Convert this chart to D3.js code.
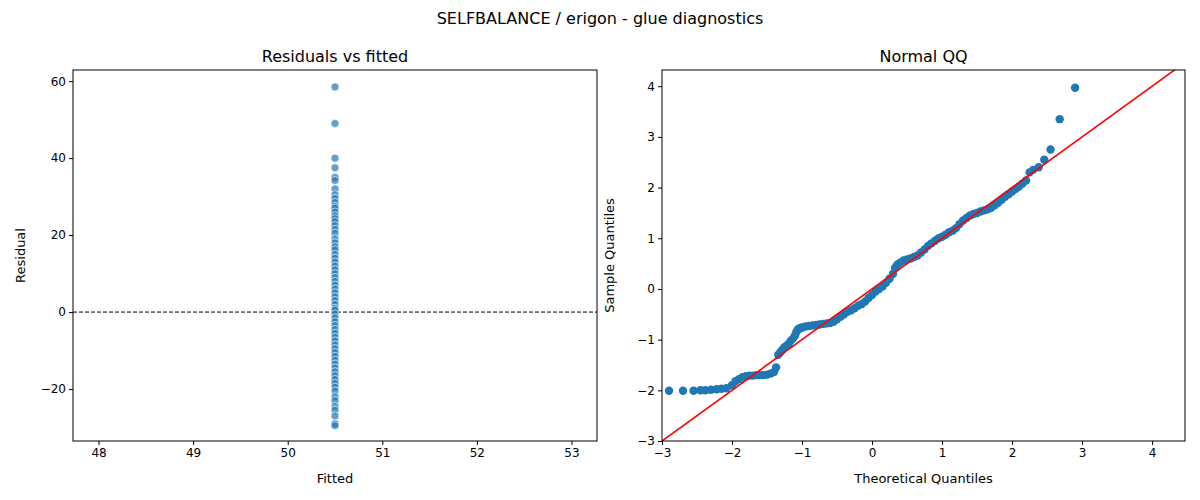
<!DOCTYPE html>
<html><head><meta charset="utf-8">
<script src="https://cdn.jsdelivr.net/npm/d3@7"></script>
<style>body{margin:0;background:#fff;font-family:"DejaVu Sans",sans-serif}</style>
</head><body><svg width="1200" height="500"></svg>
<script>
// values
var fittedValue = 50.5
var residuals = [58.5, 49, 40, 37.5, 35, 34.2, 32, 30.5, 29.5, 28.5, 27.5, 27, 26, 25, 24.3, 23.5, 22.5, 21.5, 20.5, 19, 18, 17, 16.2, 15, 14, 13, 12, 11, 10, 9, 8, 7, 6, 5, 4, 3, 2, 1, 0.5, -0.5, -1.5, -2.5, -3.5, -4.5, -5.5, -6.5, -7.5, -8.5, -9.5, -10.5, -11.5, -12.5, -13.5, -14.5, -15.5, -16.5, -17.5, -18.5, -19.5, -20.5, -22, -23, -24.5, -25.5, -27, -29, -29.5]
var qqTheo = [-2.9, -2.7, -2.55, -2.45, -2.38, -2.3, -2.22, -2.15, -2.08, -2.0, -1.95, -1.9, -1.85, -1.8, -1.75, -1.7, -1.65, -1.6, -1.55, -1.5, -1.45, -1.4, -1.37, -1.34, -1.31, -1.28, -1.25, -1.22, -1.19, -1.16, -1.13, -1.1, -1.08, -1.06, -1.04, -1.02, -1.0, -0.95, -0.9, -0.85, -0.8, -0.75, -0.7, -0.65, -0.6, -0.55, -0.5, -0.45, -0.4, -0.35, -0.3, -0.25, -0.2, -0.15, -0.1, -0.05, 0, 0.05, 0.1, 0.15, 0.2, 0.25, 0.3, 0.33, 0.36, 0.4, 0.45, 0.5, 0.55, 0.6, 0.65, 0.7, 0.75, 0.8, 0.85, 0.9, 0.95, 1.0, 1.05, 1.1, 1.15, 1.2, 1.25, 1.3, 1.35, 1.4, 1.45, 1.5, 1.55, 1.6, 1.65, 1.7, 1.75, 1.8, 1.85, 1.9, 1.95, 2.0, 2.05, 2.1, 2.15, 2.2, 2.25, 2.3, 2.38, 2.46, 2.55, 2.68, 2.9]
var qqSample = [-2.01, -2.01, -2.01, -2.0, -2.0, -1.99, -1.98, -1.97, -1.96, -1.9, -1.82, -1.78, -1.74, -1.72, -1.71, -1.71, -1.7, -1.7, -1.7, -1.69, -1.67, -1.64, -1.55, -1.3, -1.25, -1.2, -1.15, -1.12, -1.08, -1.02, -0.98, -0.92, -0.85, -0.8, -0.78, -0.77, -0.76, -0.74, -0.73, -0.72, -0.71, -0.7, -0.69, -0.68, -0.67, -0.65, -0.6, -0.55, -0.5, -0.45, -0.42, -0.38, -0.33, -0.3, -0.25, -0.18, -0.12, -0.05, 0.0, 0.05, 0.12, 0.2, 0.3, 0.42, 0.48, 0.52, 0.56, 0.58, 0.6, 0.63, 0.66, 0.72, 0.78, 0.85, 0.9, 0.95, 1.0, 1.03, 1.07, 1.12, 1.15, 1.2, 1.28, 1.35, 1.4, 1.45, 1.48, 1.5, 1.53, 1.55, 1.57, 1.6, 1.65, 1.7, 1.76, 1.82, 1.87, 1.92, 1.97, 2.02, 2.08, 2.14, 2.3, 2.35, 2.4, 2.55, 2.75, 3.35, 3.97]
var leftXTicks = [48, 49, 50, 51, 52, 53]
var leftYTicks = [-20, 0, 20, 40, 60]
var rightTicks = [-3, -2, -1, 0, 1, 2, 3, 4]

var svg = d3.select('svg')
var blue = '#1f77b4'
svg.append('text').attr('x', 600).attr('y', 24).attr('text-anchor', 'middle')
    .attr('font-size', 16).text('SELFBALANCE / erigon - glue diagnostics')

function panel(x0, x1, y0, y1, xd, yd, title, xl, yl) {
    var g = svg.append('g')
    var xs = d3.scaleLinear().domain(xd).range([x0, x1])
    var ys = d3.scaleLinear().domain(yd).range([y1, y0])
    g.append('text').attr('x', (x0 + x1) / 2).attr('y', y0 - 8).attr('text-anchor', 'middle')
        .attr('font-size', 16).text(title)
    g.append('text').attr('x', (x0 + x1) / 2).attr('y', y1 + 42).attr('text-anchor', 'middle')
        .attr('font-size', 13).text(xl)
    g.append('text').attr('transform', `translate(${x0 - 48},${(y0 + y1) / 2}) rotate(-90)`)
        .attr('text-anchor', 'middle').attr('font-size', 13).text(yl)
    return {g: g, xs: xs, ys: ys}
}

function axes(p, xt, yt, fmt) {
    var x = p.g.append('g').attr('transform', `translate(0,${p.ys.range()[0]})`)
        .call(d3.axisBottom(p.xs).tickValues(xt).tickSize(4).tickFormat(fmt))
    var y = p.g.append('g').attr('transform', `translate(${p.xs.range()[0]},0)`)
        .call(d3.axisLeft(p.ys).tickValues(yt).tickSize(4).tickFormat(fmt))
    ;[x, y].forEach(function(a) {
        a.select('.domain').remove()
        a.selectAll('text').attr('font-size', 12).attr('font-family', 'DejaVu Sans').attr('fill', '#000')
    })
    var r = p.xs.range(), d = p.ys.range()
    p.g.append('rect').attr('x', r[0]).attr('y', d[1]).attr('width', r[1] - r[0]).attr('height', d[0] - d[1])
        .attr('fill', 'none').attr('stroke', '#000').attr('stroke-width', 1)
}

var fmt = function(d) { return d < 0 ? '\u2212' + Math.abs(d) : d }

// left panel
var L = panel(73, 597, 70, 441, [47.73, 53.27], [-33.5, 62.9], 'Residuals vs fitted', 'Fitted', 'Residual')
L.g.append('line').attr('x1', 73).attr('x2', 597).attr('y1', L.ys(0)).attr('y2', L.ys(0))
    .attr('stroke', '#000').attr('stroke-dasharray', '4,2')
L.g.selectAll('circle').data(residuals).enter().append('circle')
    .attr('cx', L.xs(fittedValue)).attr('cy', function(d) { return L.ys(d) })
    .attr('r', 4).attr('fill', blue).attr('fill-opacity', 0.7)
    .attr('stroke', '#fff').attr('stroke-width', 0.6)
axes(L, leftXTicks, leftYTicks, fmt)

// right panel
var R = panel(662, 1185, 70, 441, [-3, 4.47], [-3, 4.32], 'Normal QQ', 'Theoretical Quantiles', 'Sample Quantiles')
R.g.append('clipPath').attr('id', 'clip').append('rect').attr('x', 662).attr('y', 70).attr('width', 523).attr('height', 371)
R.g.selectAll('circle').data(qqTheo).enter().append('circle')
    .attr('cx', function(d) { return R.xs(d) }).attr('cy', function(d, i) { return R.ys(qqSample[i]) })
    .attr('r', 4.2).attr('fill', blue)
R.g.append('line').attr('clip-path', 'url(#clip)')
    .attr('x1', R.xs(-3)).attr('y1', R.ys(-3)).attr('x2', R.xs(4.5)).attr('y2', R.ys(4.5))
    .attr('stroke', 'red').attr('stroke-width', 1.6)
axes(R, rightTicks, rightTicks, fmt)
</script></body></html>
